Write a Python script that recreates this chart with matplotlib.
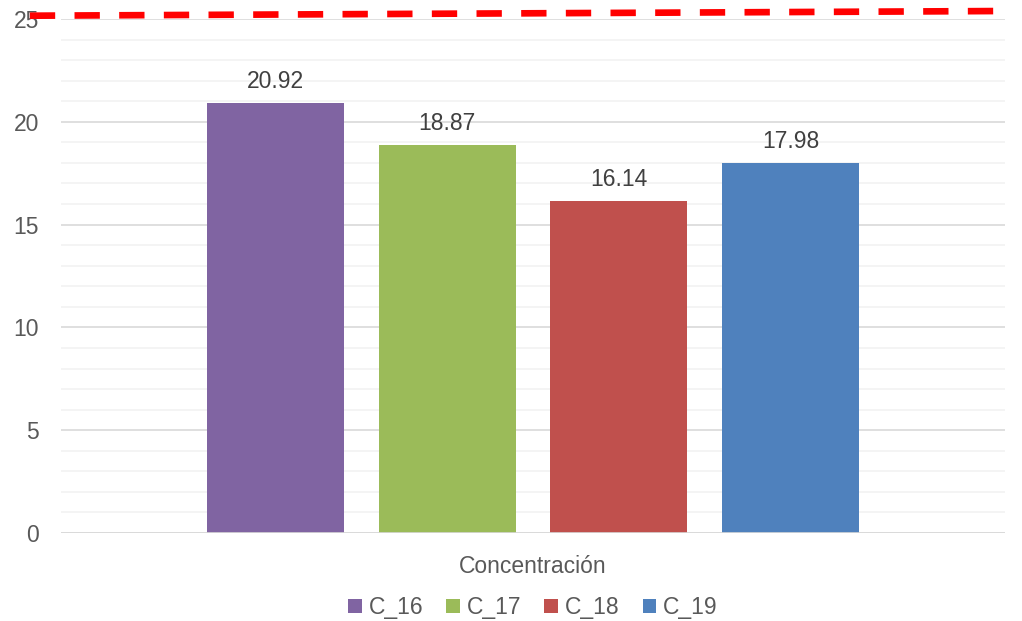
import matplotlib.pyplot as plt
import numpy as np

plt.rcParams["font.family"] = ["Liberation Sans", "DejaVu Sans"]

series = ["C_16", "C_17", "C_18", "C_19"]
values = [20.92, 18.87, 16.14, 17.98]
colors = ["#8064A2", "#9BBB59", "#C0504D", "#4F81BD"]
category = "Concentración"
limit_line = [25.16, 25.39]  # dashed red line, left end / right end

text_color = "#595959"
fs = 16.5

fig = plt.figure(figsize=(10.22, 6.21), dpi=100)
ax = fig.add_axes([61 / 1022, 1 - 533 / 621, 944 / 1022, 514 / 621])

step = 0.182
width = 0.145
for i, (name, v, c) in enumerate(zip(series, values, colors)):
    x = 0.5 + (i - 1.5) * step
    ax.bar(x, v, width=width, color=c, label=name, zorder=3)
    ax.text(x, v + 0.5, f"{v:.2f}", ha="center", va="bottom",
            fontsize=fs, color="#404040")

ax.set_xlim(0, 1)
ax.set_ylim(0, 25)
ax.set_yticks(np.arange(0, 26, 5))
ax.set_yticks(np.arange(0, 26, 1), minor=True)
ax.grid(axis="y", which="major", color="#D9D9D9", linewidth=1.2, zorder=0)
ax.grid(axis="y", which="minor", color="#F2F2F2", linewidth=1.2, zorder=0)
ax.tick_params(axis="y", which="both", length=0, labelsize=fs,
               labelcolor=text_color, pad=16)
ax.set_xticks([0.5])
ax.set_xticklabels([category])
ax.tick_params(axis="x", length=0, labelsize=fs, labelcolor=text_color, pad=16)
for s in ax.spines.values():
    s.set_visible(False)
ax.axhline(0, color="#D9D9D9", linewidth=1.2, zorder=4)

# dashed line drawn in data coords, extending a bit past the plot area
ax.plot([-0.033, 1.006], limit_line, color="#FF0000", linewidth=4.8,
        linestyle=(0, (3.8, 2.9)), clip_on=False, zorder=5)

ax.legend(loc="center", bbox_to_anchor=(0.5, -0.145), ncol=4,
          frameon=False, fontsize=fs, handlelength=0.6, handleheight=0.6,
          handletextpad=0.3, columnspacing=1.0, labelcolor=text_color)

fig.savefig("out.png", dpi=100)
